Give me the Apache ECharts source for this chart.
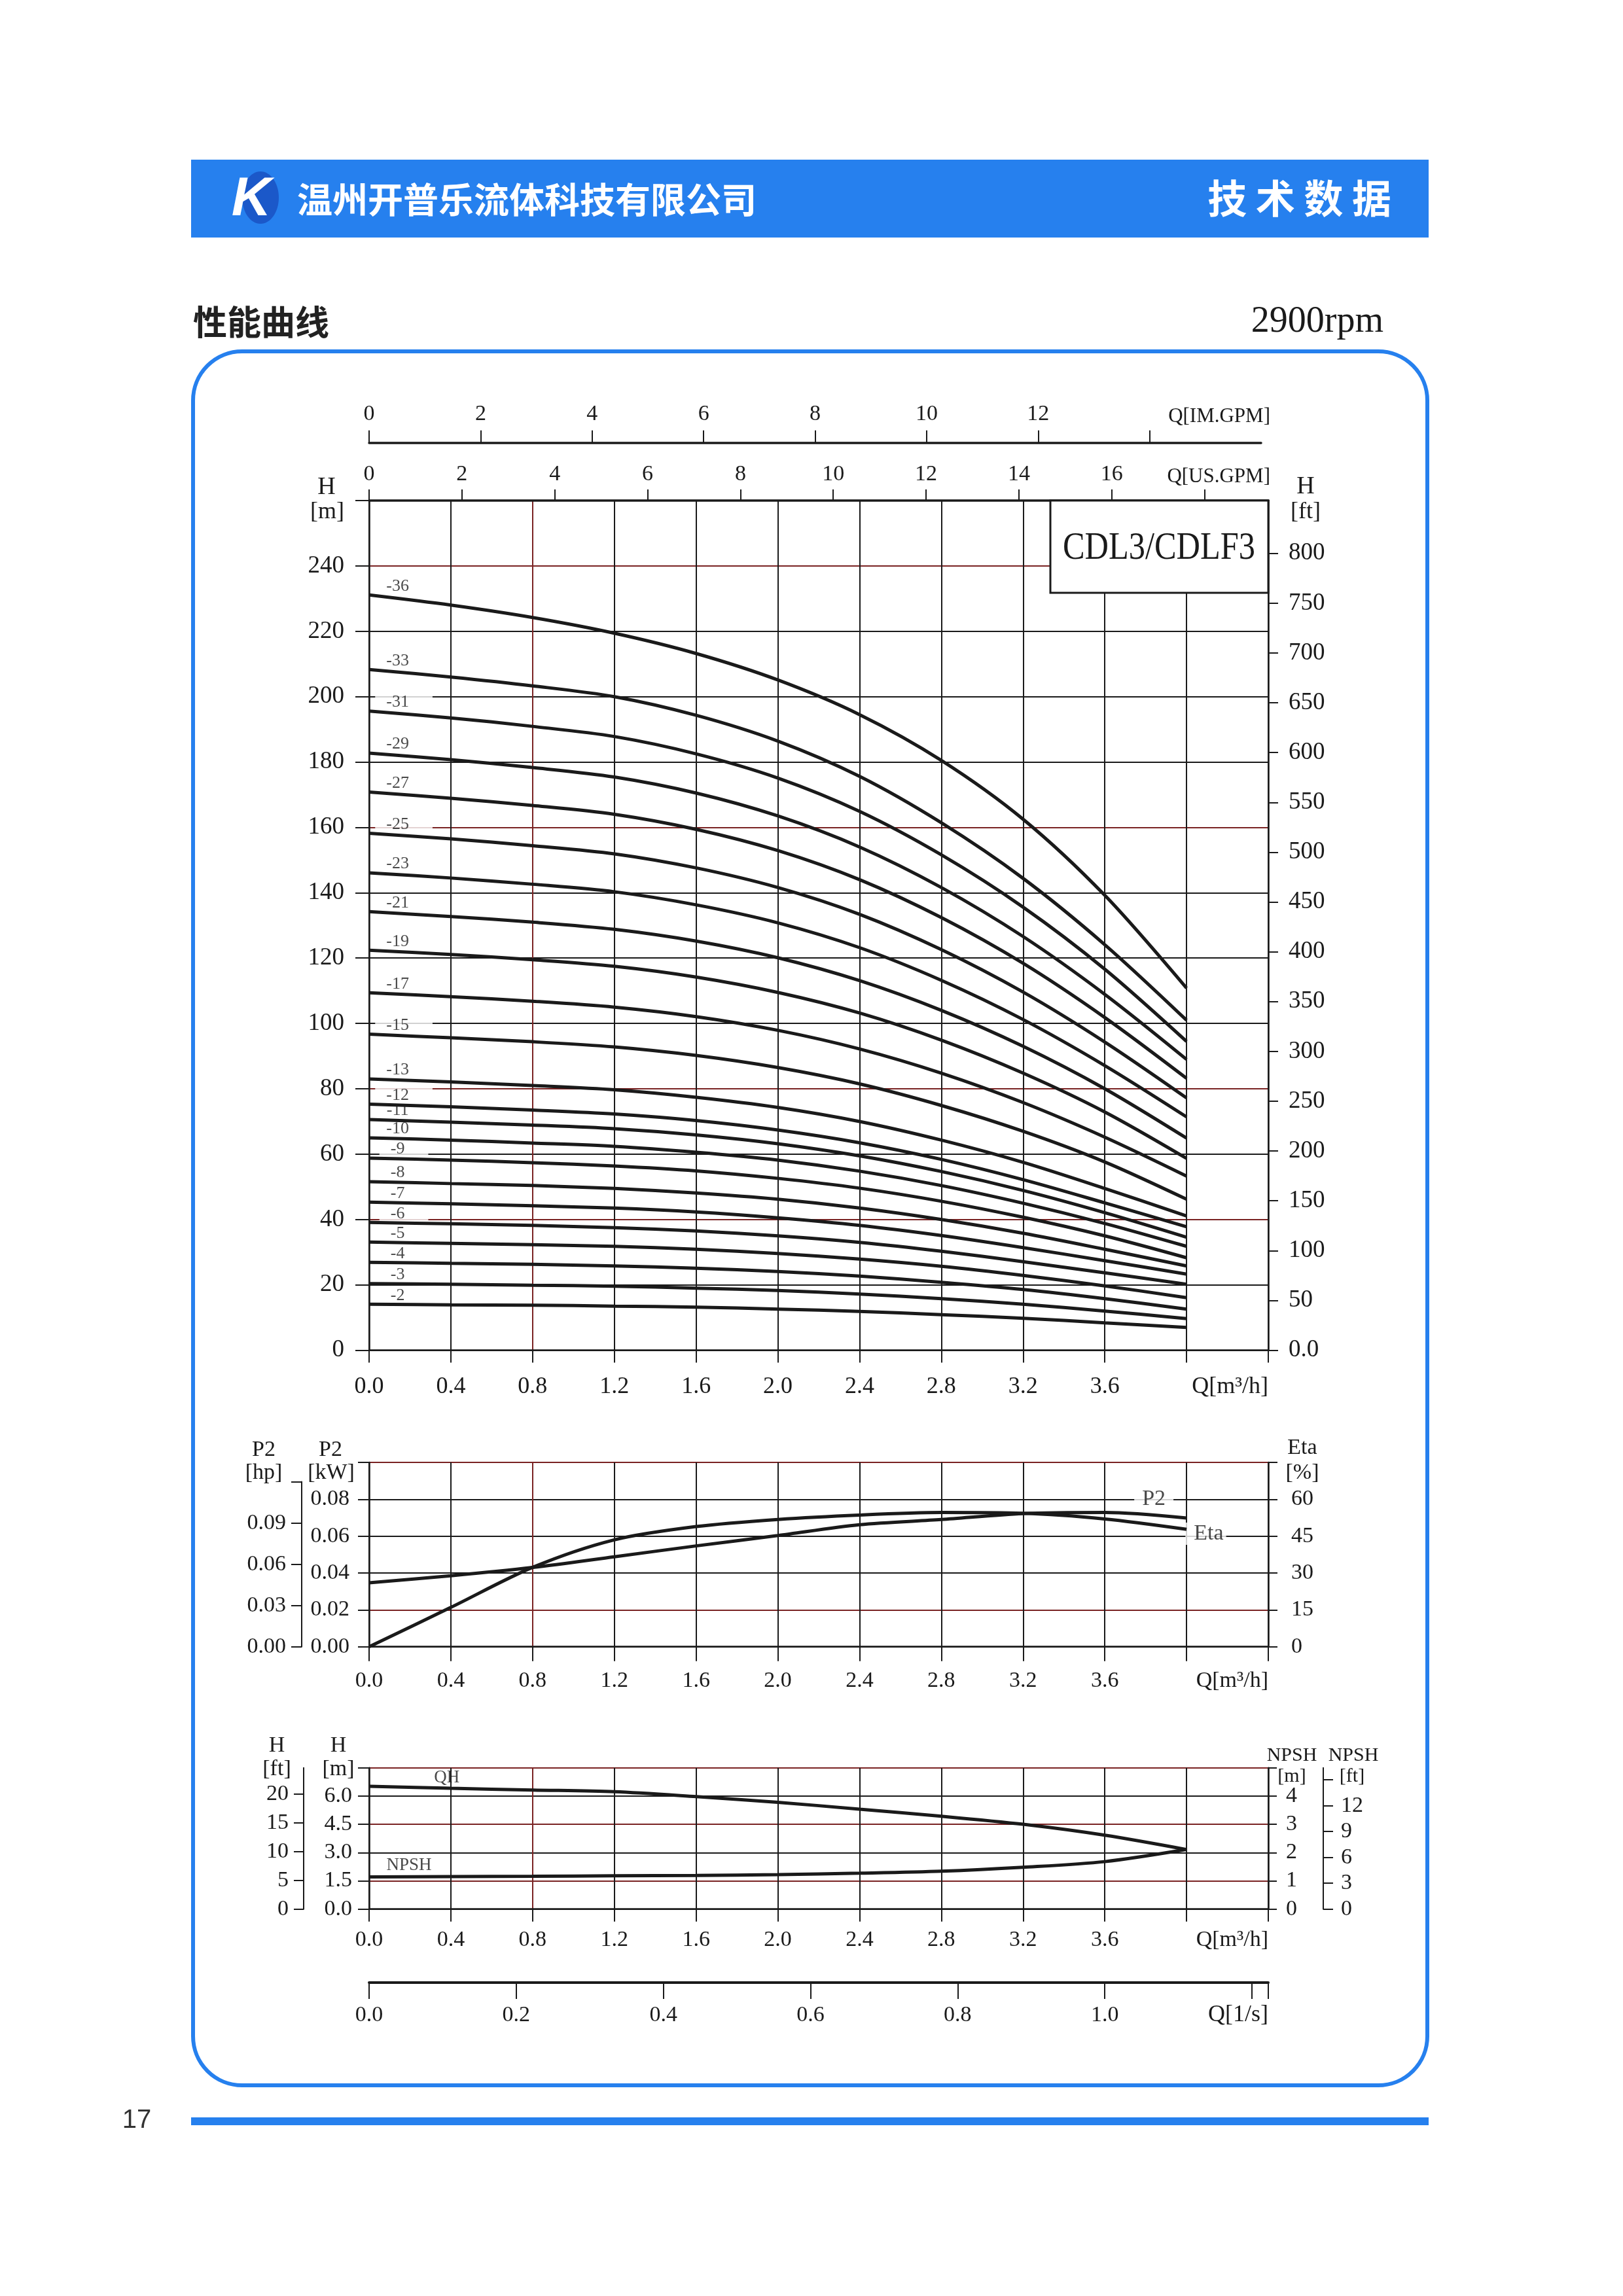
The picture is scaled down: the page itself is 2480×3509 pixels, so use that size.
<!DOCTYPE html>
<html><head><meta charset="utf-8">
<script src="https://cdn.jsdelivr.net/npm/echarts@6/dist/echarts.min.js"></script>
<style>html,body{margin:0;padding:0;background:#fff}#c{width:2480px;height:3509px}</style>
</head><body><div id="c"></div>
<script>
// ---------------- DATA ----------------
const flowQ = [0, 0.4, 0.8, 1.2, 1.6, 2.0, 2.4, 2.8, 3.2, 3.6, 4.0];
const stageLabels = ['-36','-33','-31','-29','-27','-25','-23','-21','-19','-17','-15','-13','-12','-11','-10','-9','-8','-7','-6','-5','-4','-3','-2'];
const h36 = [231.1, 228.0, 224.2, 219.4, 213.2, 205.1, 194.5, 180.5, 162.5, 139.2, 110.8];
const h33 = [208.3, 206.0, 203.3, 200.0, 194.3, 186.4, 175.6, 161.4, 144.4, 124.1, 101.0];
const h31 = [195.6, 193.5, 190.9, 187.8, 182.5, 175.1, 164.9, 151.6, 135.6, 116.6, 94.5];
const h29 = [182.7, 180.7, 178.3, 175.4, 170.5, 163.5, 154.0, 141.6, 126.6, 108.9, 89.0];
const h27 = [170.8, 168.9, 166.7, 164.0, 159.4, 152.9, 144.0, 132.4, 118.4, 101.8, 83.2];
const h25 = [158.2, 156.5, 154.4, 151.9, 147.6, 141.6, 133.4, 122.6, 109.6, 94.3, 77.2];
const h23 = [146.1, 144.5, 142.6, 140.3, 136.3, 130.8, 123.2, 113.2, 101.2, 87.1, 71.4];
const h21 = [134.2, 132.7, 131.0, 128.8, 125.2, 120.1, 113.1, 104.0, 93.0, 80.0, 64.9];
const h19 = [122.4, 121.1, 119.5, 117.5, 114.2, 109.5, 103.2, 94.9, 84.8, 72.9, 58.7];
const h17 = [109.4, 108.2, 106.8, 105.0, 102.1, 97.9, 92.2, 84.8, 75.8, 65.2, 53.3];
const h15 = [96.7, 95.6, 94.4, 92.8, 90.2, 86.5, 81.5, 74.9, 67.0, 57.6, 46.2];
const h13 = [83.0, 82.1, 81.0, 79.7, 77.4, 74.3, 70.0, 64.3, 57.5, 49.5, 41.1];
const h12 = [75.3, 74.5, 73.5, 72.3, 70.3, 67.4, 63.5, 58.4, 52.2, 45.1, 37.8];
const h11 = [70.6, 69.8, 68.9, 67.8, 65.9, 63.2, 59.5, 54.7, 48.9, 42.1, 34.6];
const h10 = [65.0, 64.3, 63.4, 62.4, 60.6, 58.2, 54.8, 50.4, 45.0, 38.8, 31.8];
const h9  = [58.8, 58.2, 57.4, 56.4, 54.9, 52.6, 49.6, 45.6, 40.7, 35.0, 28.3];
const h8  = [51.6, 51.0, 50.4, 49.5, 48.1, 46.2, 43.5, 40.0, 35.8, 30.9, 25.8];
const h7  = [45.3, 44.8, 44.2, 43.5, 42.3, 40.5, 38.2, 35.1, 31.4, 27.4, 23.3];
const h6  = [39.1, 38.7, 38.2, 37.5, 36.5, 35.0, 33.0, 30.3, 27.1, 23.7, 20.2];
const h5  = [33.1, 32.7, 32.3, 31.8, 30.9, 29.6, 27.9, 25.7, 22.9, 19.7, 16.1];
const h4  = [26.9, 26.6, 26.3, 25.8, 25.1, 24.1, 22.7, 20.8, 18.6, 15.8, 12.6];
const h3  = [20.4, 20.2, 19.9, 19.6, 19.0, 18.3, 17.2, 15.8, 14.1, 12.0, 9.7];
const h2  = [14.1, 13.9, 13.8, 13.5, 13.2, 12.6, 11.9, 10.9, 9.8, 8.4, 7.0];
const stageCurves = [h36,h33,h31,h29,h27,h25,h23,h21,h19,h17,h15,h13,h12,h11,h10,h9,h8,h7,h6,h5,h4,h3,h2];

const p2kW    = [0.0347, 0.0385, 0.0430, 0.0488, 0.0547, 0.0603, 0.0662, 0.0690, 0.0722, 0.0728, 0.0698];
const etaPct  = [0, 16.0, 32.3, 43.5, 48.9, 51.8, 53.6, 54.6, 54.3, 52.0, 47.8];
const qhHead  = [6.52, 6.41, 6.32, 6.23, 5.97, 5.67, 5.30, 4.93, 4.50, 3.92, 3.16];
const npshReq = [1.14, 1.15, 1.16, 1.18, 1.19, 1.22, 1.27, 1.34, 1.48, 1.68, 2.11];

// tick labels
const qLabelVals   = [0, 0.4, 0.8, 1.2, 1.6, 2.0, 2.4, 2.8, 3.2, 3.6];
const hLabelVals   = [0, 20, 40, 60, 80, 100, 120, 140, 160, 180, 200, 220, 240];
const ftTicks      = [0, 50, 100, 150, 200, 250, 300, 350, 400, 450, 500, 550, 600, 650, 700, 750, 800];
const usGpmTicks   = [0, 2, 4, 6, 8, 10, 12, 14, 16, 18];
const usGpmLabels  = [0, 2, 4, 6, 8, 10, 12, 14, 16];
const imGpmTicks   = [0, 2, 4, 6, 8, 10, 12, 14];
const imGpmLabels  = [0, 2, 4, 6, 8, 10, 12];
const lsTicks      = [0, 0.2, 0.4, 0.6, 0.8, 1.0, 1.2];
const lsLabels     = [0, 0.2, 0.4, 0.6, 0.8, 1.0];
const kwLabels     = [0, 0.02, 0.04, 0.06, 0.08];
const hpTicks      = [0, 0.03, 0.06, 0.09, 0.12];
const hpLabels     = [0, 0.03, 0.06, 0.09];
const etaLabels    = [0, 15, 30, 45, 60];
const hmLabels     = [0, 1.5, 3.0, 4.5, 6.0];
const hftTicks     = [0, 5, 10, 15, 20];
const npshmLabels  = [0, 1, 2, 3, 4];
const npshFtTicks  = [0, 3, 6, 9, 12, 15];
const npshFtLabels = [0, 3, 6, 9, 12];

// ---------------- STYLE / LAYOUT ----------------
const SERIF = '"Liberation Serif", "Times New Roman", serif';
const CJK = '"Noto Sans CJK SC", sans-serif';
const INK = '#1a1a1a';
const RED = '#7a2323';
const BLUE = '#2680ee';
const L = 564, W = 1374;

const chart = echarts.init(document.getElementById('c'), null, {renderer:'canvas', width:2480, height:3509, devicePixelRatio:1});

function colors(n, red){ const a=[]; for(let i=0;i<n;i++) a.push(red.indexOf(i)>=0?RED:INK); return a; }
function lab(size, margin, extra){ return Object.assign({show:true, fontFamily:SERIF, fontSize:size, color:INK, margin:margin}, extra||{}); }
function line(w){ return {show:true, onZero:false, lineStyle:{color:INK, width:w}}; }
function tick(len, extra){ return Object.assign({show:true, length:len, inside:false, lineStyle:{color:INK, width:2}}, extra||{}); }
const noSplit = {show:false};
const f1 = v => v.toFixed(1), f2 = v => v.toFixed(2);

const qAxis = (gi, tl, mg, fs) => ({gridIndex:gi, type:'value', min:0, max:4.4, interval:0.4, position:'bottom',
  axisLine:line(2.5), axisTick:tick(tl), axisLabel:lab(fs, mg, {customValues:qLabelVals, formatter:f1}),
  splitLine:{show:true, lineStyle:{color:colors(12,[2]), width:2}}});

const grids = [
  {left:L, top:765, width:W, height:1298.6},
  {left:L, top:2235, width:W, height:281.7},
  {left:L, top:2701.7, width:W, height:216},
  {left:L, top:676.7, width:1363, height:1},
  {left:L, top:3029, width:W, height:1},
  {left:461, top:2264.6, width:1, height:252.1}
].map(g => Object.assign({containLabel:false, outerBoundsMode:'none', show:false}, g));

const xAxes = [
  qAxis(0, 19, 38, 36),
  {gridIndex:0, type:'value', min:0, max:4.4*4.402868, position:'top', axisLine:line(3.5),
   axisTick:tick(17,{customValues:usGpmTicks}), axisLabel:lab(34,23,{customValues:usGpmLabels}), splitLine:noSplit},
  qAxis(1, 22, 35, 34),
  qAxis(2, 19, 30, 34),
  {gridIndex:3, type:'value', min:0, max:16, position:'top', axisLine:line(3.5),
   axisTick:tick(19,{customValues:imGpmTicks}), axisLabel:lab(34,27,{customValues:imGpmLabels}), splitLine:noSplit},
  {gridIndex:4, type:'value', min:0, max:4.4/3.6, position:'bottom', axisLine:line(4),
   axisTick:tick(25,{customValues:lsTicks.concat([4.4/3.6])}), axisLabel:lab(34,33,{customValues:lsLabels, formatter:f1}), splitLine:noSplit},
  {gridIndex:5, type:'value', show:false, min:0, max:1}
];

const yAxes = [
  {gridIndex:0, type:'value', min:0, max:260, interval:20, position:'left', axisLine:line(2.5), axisTick:tick(21),
   axisLabel:lab(37,38,{customValues:hLabelVals}), splitLine:{show:true, lineStyle:{color:colors(14,[2,4,8,12]), width:2}}},
  {gridIndex:0, type:'value', min:0, max:260/0.3048, position:'right', axisLine:line(2.5), axisTick:tick(15,{customValues:ftTicks}),
   axisLabel:lab(37,31,{customValues:ftTicks, formatter:v=>v===0?'0.0':String(v)}), splitLine:noSplit},
  {gridIndex:1, type:'value', min:0, max:0.1, interval:0.02, position:'left', axisLine:line(2.5), axisTick:tick(17),
   axisLabel:lab(34,30,{customValues:kwLabels, formatter:f2}), splitLine:{show:true, lineStyle:{color:colors(6,[1,5]), width:2}}},
  {gridIndex:1, type:'value', min:0, max:75, interval:15, position:'right', axisLine:line(2.5), axisTick:tick(14),
   axisLabel:lab(34,35,{customValues:etaLabels}), splitLine:noSplit},
  {gridIndex:2, type:'value', min:0, max:7.5, interval:1.5, position:'left', axisLine:line(2.5), axisTick:tick(17),
   axisLabel:lab(34,26,{customValues:hmLabels, formatter:f1}), splitLine:{show:true, lineStyle:{color:colors(6,[1,3,5]), width:2}}},
  {gridIndex:2, type:'value', min:0, max:7.5/0.3048, position:'left', offset:100, axisLine:line(2), axisTick:tick(15,{customValues:hftTicks}),
   axisLabel:lab(34,23,{customValues:hftTicks}), splitLine:noSplit},
  {gridIndex:2, type:'value', min:0, max:5, interval:1, position:'right', axisLine:line(2.5), axisTick:tick(13),
   axisLabel:lab(34,27,{customValues:npshmLabels}), splitLine:noSplit},
  {gridIndex:2, type:'value', min:0, max:5/0.3048, position:'right', offset:84, axisLine:line(2), axisTick:tick(15,{customValues:npshFtTicks}),
   axisLabel:lab(34,27,{customValues:npshFtLabels}), splitLine:noSplit},
  {gridIndex:3, type:'value', show:false, min:0, max:1},
  {gridIndex:4, type:'value', show:false, min:0, max:1},
  {gridIndex:5, type:'value', min:0, max:0.12, interval:0.03, position:'left', axisLine:line(2), axisTick:tick(16),
   axisLabel:lab(34,24,{customValues:hpLabels, formatter:f2}), splitLine:noSplit}
];

const curveStyle = {type:'line', smooth:0.3, symbol:'none', z:3, silent:true};
const series = [];
stageCurves.forEach((arr) => {
  series.push(Object.assign({}, curveStyle, {xAxisIndex:0, yAxisIndex:0, data:flowQ.map((q,j)=>[q,arr[j]]),
    lineStyle:{color:INK, width:5}}));
});
series.push({type:'scatter', xAxisIndex:0, yAxisIndex:0, symbolSize:0, z:1, silent:true,
  data:stageLabels.map((n,i)=>({name:n, value:[0.17, stageCurves[i][0]+2.7]})),
  label:{show:true, position:'inside', formatter:'{b}', fontFamily:SERIF, fontSize:26, color:INK,
    backgroundColor:'#fff', padding:[0,36,0,17], lineHeight:22}});

series.push(Object.assign({}, curveStyle, {name:'P2', xAxisIndex:2, yAxisIndex:2, data:flowQ.map((q,j)=>[q,p2kW[j]]), lineStyle:{color:INK, width:5}}));
series.push(Object.assign({}, curveStyle, {name:'Eta', xAxisIndex:2, yAxisIndex:3, data:flowQ.map((q,j)=>[q,etaPct[j]]), lineStyle:{color:INK, width:5}}));
series.push({type:'scatter', xAxisIndex:2, yAxisIndex:2, symbolSize:0, z:1, silent:true,
  data:[{name:'P2', value:[3.84, 0.08]}],
  label:{show:true, position:'inside', formatter:'{b}', fontFamily:SERIF, fontSize:34, color:INK, backgroundColor:'#fff', padding:[0,12,0,12]}});
series.push({type:'scatter', xAxisIndex:2, yAxisIndex:3, symbolSize:0, z:1, silent:true,
  data:[{name:'Eta', value:[4.094, 46.0]}],
  label:{show:true, position:'inside', formatter:'{b}', fontFamily:SERIF, fontSize:34, color:INK, backgroundColor:'#fff', padding:[0,4,0,13]}});

series.push(Object.assign({}, curveStyle, {name:'QH', xAxisIndex:3, yAxisIndex:4, data:flowQ.map((q,j)=>[q,qhHead[j]]), lineStyle:{color:INK, width:5}}));
series.push(Object.assign({}, curveStyle, {name:'NPSH', xAxisIndex:3, yAxisIndex:6, data:flowQ.map((q,j)=>[q,npshReq[j]]), lineStyle:{color:INK, width:5}}));
series.push({type:'scatter', xAxisIndex:3, yAxisIndex:4, symbolSize:0, z:1, silent:true,
  data:[{name:'QH', value:[0.38, 6.97]}, {name:'NPSH', value:[0.195, 2.32]}],
  label:{show:true, position:'inside', formatter:'{b}', fontFamily:SERIF, fontSize:27, color:INK}});

// ---------------- GRAPHIC (page furniture & axis titles) ----------------
function txt(x, y, text, size, o){
  o = o || {};
  const align = o.align || 'center';
  return {type:'text', x:x, y:y, z:100, scaleX:o.scaleX||1, silent:true,
    style:{text:text, x:0, y:0, font:(o.weight||'normal')+' '+size+'px '+(o.family||SERIF), fill:o.fill||INK,
      align:align, verticalAlign:'middle', textAlign:align, textVerticalAlign:'middle'}};
}
const graphic = [
  {type:'rect', z:90, silent:true, shape:{x:292, y:244, width:1891, height:119}, style:{fill:BLUE}},
  {type:'ellipse', z:95, silent:true, shape:{cx:398, cy:302, rx:28, ry:40}, style:{fill:'#1b58c9'}},
  txt(384, 306, 'K', 84, {weight:'bold italic', family:'"Liberation Sans", sans-serif', fill:'#fff'}),
  txt(454, 305, '温州开普乐流体科技有限公司', 54, {align:'left', weight:'bold', family:CJK, fill:'#fff'}),
  txt(2126, 303, '技 术 数 据', 60, {align:'right', weight:'bold', family:CJK, fill:'#fff'}),
  txt(295, 492, '性能曲线', 52, {align:'left', weight:'bold', family:CJK, fill:'#222'}),
  txt(2114, 492, '2900rpm', 56, {align:'right'}),
  {type:'rect', z:80, silent:true, shape:{x:295, y:537, width:1886, height:2650, r:75}, style:{fill:'none', stroke:BLUE, lineWidth:6}},
  {type:'rect', z:90, silent:true, shape:{x:292, y:3236, width:1891, height:12}, style:{fill:BLUE}},
  txt(209, 3241, '17', 40, {family:'"Liberation Sans", sans-serif', fill:'#333'}),
  // CDL box
  {type:'rect', z:100, silent:true, shape:{x:1605, y:765, width:333, height:141}, style:{fill:'#fff', stroke:INK, lineWidth:3}},
  txt(1771, 838, 'CDL3/CDLF3', 60, {scaleX:0.84}),
  // main chart titles
  txt(499, 745, 'H', 38), txt(500, 783, '[m]', 36),
  txt(1995, 744, 'H', 38), txt(1995, 783, '[ft]', 36),
  txt(1941, 729, 'Q[US.GPM]', 31, {align:'right'}),
  txt(1941, 637, 'Q[IM.GPM]', 31, {align:'right'}),
  txt(1938, 2120, 'Q[m³/h]', 36, {align:'right'}),
  // middle chart titles
  txt(403, 2216, 'P2', 34), txt(403, 2251, '[hp]', 34),
  txt(505, 2216, 'P2', 34), txt(506, 2251, '[kW]', 34),
  txt(1990, 2213, 'Eta', 34), txt(1990, 2251, '[%]', 34),
  txt(1938, 2569, 'Q[m³/h]', 34, {align:'right'}),
  // bottom chart titles
  txt(423, 2668, 'H', 34), txt(423, 2704, '[ft]', 34),
  txt(517, 2668, 'H', 34), txt(517, 2704, '[m]', 34),
  txt(1974, 2683, 'NPSH', 30), txt(1974, 2715, '[m]', 30),
  txt(2068, 2683, 'NPSH', 30), txt(2066, 2715, '[ft]', 30),
  txt(1938, 2965, 'Q[m³/h]', 34, {align:'right'}),
  txt(1938, 3080, 'Q[1/s]', 36, {align:'right'})
];

chart.setOption({
  animation:false,
  backgroundColor:'#fff',
  grid:grids, xAxis:xAxes, yAxis:yAxes, series:series, graphic:graphic
});
</script>
</body></html>
